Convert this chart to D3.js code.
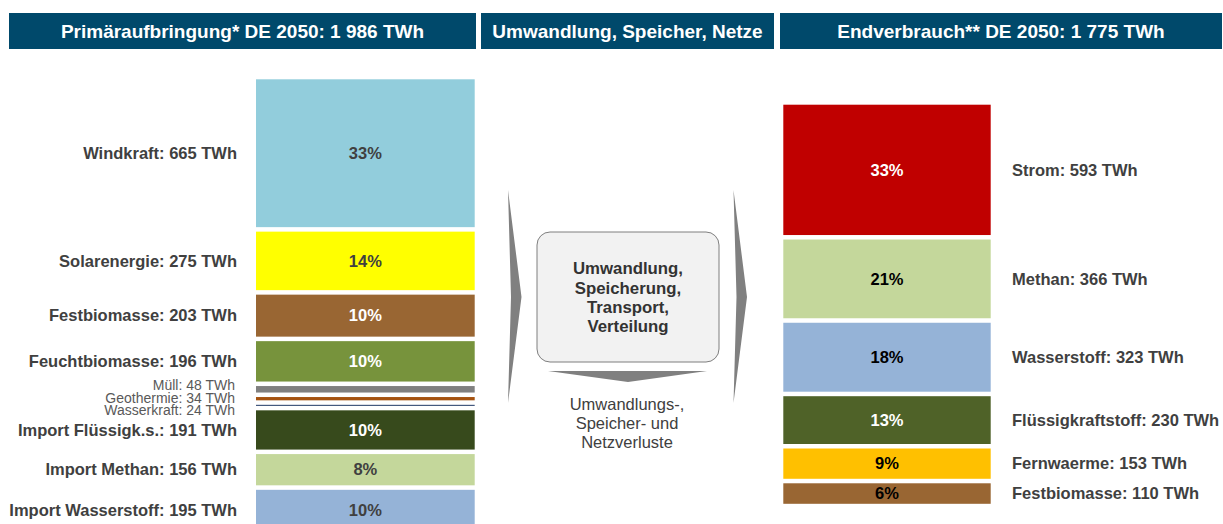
<!DOCTYPE html>
<html>
<head>
<meta charset="utf-8">
<script src="https://cdn.jsdelivr.net/npm/d3@7"></script>
<style>
  html, body { margin: 0; padding: 0; background: #fff; }
  svg { display: block; font-family: "Liberation Sans", Arial, sans-serif; }
</style>
</head>
<body>
<svg id="chart" width="1223" height="524"></svg>
<script>
// Primary supply (left column), TWh
var primaryNames = ['Windkraft', 'Solarenergie', 'Festbiomasse', 'Feuchtbiomasse', 'Müll', 'Geothermie',
  'Wasserkraft', 'Import Flüssigk.s.', 'Import Methan', 'Import Wasserstoff'];
var primaryValues = [665, 275, 203, 196, 48, 34, 24, 191, 156, 195];
var primaryColors = ['#92CDDC', '#FFFF00', '#996633', '#77933C', '#808080', '#A5520F',
  '#1F3864', '#374A1C', '#C4D79B', '#95B3D7'];
var primaryPctColors = ['#404040', '#404040', '#fff', '#fff', null, null, null, '#fff', '#404040', '#404040'];

// Final consumption (right column), TWh
var finalNames = ['Strom', 'Methan', 'Wasserstoff', 'Flüssigkraftstoff', 'Fernwaerme', 'Festbiomasse'];
var finalValues = [593, 366, 323, 230, 153, 110];
var finalColors = ['#C00000', '#C4D79B', '#95B3D7', '#4F6228', '#FFC000', '#996633'];
var finalPctColors = ['#fff', '#000', '#000', '#fff', '#000', '#000'];

var headers = ['Primäraufbringung* DE 2050: 1 986 TWh', 'Umwandlung, Speicher, Netze', 'Endverbrauch** DE 2050: 1 775 TWh'];
var boxLines = ['Umwandlung,', 'Speicherung,', 'Transport,', 'Verteilung'];
var lossLines = ['Umwandlungs-,', 'Speicher- und', 'Netzverluste'];

var svg = d3.select('#chart');
var GAP = 4.5;
var fmtPct = d3.format('.0%');

// Headers
var headerBoxes = [[9, 476], [481, 774], [780, 1222]];
headerBoxes.forEach(function(b, i) {
  svg.append('rect')
    .attr('x', b[0]).attr('y', 13)
    .attr('width', b[1] - b[0]).attr('height', 36)
    .attr('fill', '#00496B');
  svg.append('text')
    .attr('x', (b[0] + b[1]) / 2).attr('y', 31).attr('dy', '0.35em')
    .attr('text-anchor', 'middle')
    .attr('fill', '#fff')
    .attr('font-size', 19).attr('font-weight', 'bold')
    .text(headers[i]);
});

function stackData(names, values, colors, pctColors) {
  var total = d3.sum(values);
  var acc = 0;
  return names.map(function(name, i) {
    var d = {name: name, value: values[i], start: acc, end: acc + values[i],
      color: colors[i], pctColor: pctColors[i], pct: values[i] / total};
    acc += values[i];
    return d;
  });
}

function mid(y, d) {
  return (y(d.start) + y(d.end) - GAP) / 2;
}

function drawColumn(data, y, x0, x1) {
  var g = svg.append('g');
  g.selectAll('rect')
    .data(data)
    .enter().append('rect')
      .attr('x', x0)
      .attr('width', x1 - x0)
      .attr('y', function(d) { return y(d.start); })
      .attr('height', function(d) { return Math.max(1, y(d.end) - y(d.start) - GAP); })
      .attr('fill', function(d) { return d.color; });

  g.selectAll('text.pct')
    .data(data.filter(function(d) { return d.pctColor; }))
    .enter().append('text')
      .attr('class', 'pct')
      .attr('x', (x0 + x1) / 2)
      .attr('y', function(d) { return mid(y, d); })
      .attr('dy', '0.35em')
      .attr('text-anchor', 'middle')
      .attr('font-size', 16.5).attr('font-weight', 'bold')
      .attr('fill', function(d) { return d.pctColor; })
      .text(function(d) { return fmtPct(d.pct); });
  return g;
}

// Left column
var primary = stackData(primaryNames, primaryValues, primaryColors, primaryPctColors);
var yLeft = d3.scaleLinear().domain([0, d3.sum(primaryValues)]).range([79.3, 79.3 + 1986 * 0.2292]);
drawColumn(primary, yLeft, 256, 474.7);

var bigLeft = primary.filter(function(d) { return d.pctColor; });
var smallLeft = primary.filter(function(d) { return !d.pctColor; });

svg.append('g').selectAll('text')
  .data(bigLeft)
  .enter().append('text')
    .attr('x', 237)
    .attr('y', function(d) { return mid(yLeft, d); })
    .attr('dy', '0.35em')
    .attr('text-anchor', 'end')
    .attr('font-size', 16.5).attr('font-weight', 'bold')
    .attr('fill', '#404040')
    .text(function(d) { return d.name + ': ' + d.value + ' TWh'; });

// small sources get a tight label block around the group middle
var smallMid = (mid(yLeft, smallLeft[0]) + mid(yLeft, smallLeft[smallLeft.length - 1])) / 2;
svg.append('g').selectAll('text')
  .data(smallLeft)
  .enter().append('text')
    .attr('x', 235)
    .attr('y', function(d, i) { return smallMid + 0.5 + (i - 1) * 12.5; })
    .attr('dy', '0.35em')
    .attr('text-anchor', 'end')
    .attr('font-size', 14)
    .attr('fill', '#595959')
    .text(function(d) { return d.name + ': ' + d.value + ' TWh'; });

// Right column
var finals = stackData(finalNames, finalValues, finalColors, finalPctColors);
var yRight = d3.scaleLinear().domain([0, d3.sum(finalValues)]).range([104.7, 508.3]);
drawColumn(finals, yRight, 783.3, 990.7);

svg.append('g').selectAll('text')
  .data(finals)
  .enter().append('text')
    .attr('x', 1012)
    .attr('y', function(d) { return mid(yRight, d); })
    .attr('dy', '0.35em')
    .attr('font-size', 16.5).attr('font-weight', 'bold')
    .attr('fill', '#404040')
    .text(function(d) { return d.name + ': ' + d.value + ' TWh'; });

// Middle: chevrons, process box, loss arrow
var chevron = 'M0,0 L13.5,107 L0,213 L3,107 Z';
svg.append('path').attr('d', chevron).attr('transform', 'translate(508,190)').attr('fill', '#808080');
svg.append('path').attr('d', chevron).attr('transform', 'translate(733.5,190)').attr('fill', '#808080');

svg.append('rect')
  .attr('x', 537).attr('y', 232)
  .attr('width', 182).attr('height', 130)
  .attr('rx', 13).attr('ry', 13)
  .attr('fill', '#F2F2F2')
  .attr('stroke', '#7F7F7F').attr('stroke-width', 1);

svg.append('g').selectAll('text')
  .data(boxLines)
  .enter().append('text')
    .attr('x', 628)
    .attr('y', function(d, i) { return 268.5 + i * 19.3; })
    .attr('dy', '0.35em')
    .attr('text-anchor', 'middle')
    .attr('font-size', 16.8).attr('font-weight', 'bold')
    .attr('fill', '#333')
    .text(function(d) { return d; });

svg.append('path')
  .attr('d', 'M548,371 L707,371 L628,382 Z')
  .attr('fill', '#808080');

svg.append('g').selectAll('text')
  .data(lossLines)
  .enter().append('text')
    .attr('x', 627)
    .attr('y', function(d, i) { return 404 + i * 19; })
    .attr('dy', '0.35em')
    .attr('text-anchor', 'middle')
    .attr('font-size', 16.5)
    .attr('fill', '#404040')
    .text(function(d) { return d; });
</script>
</body>
</html>
